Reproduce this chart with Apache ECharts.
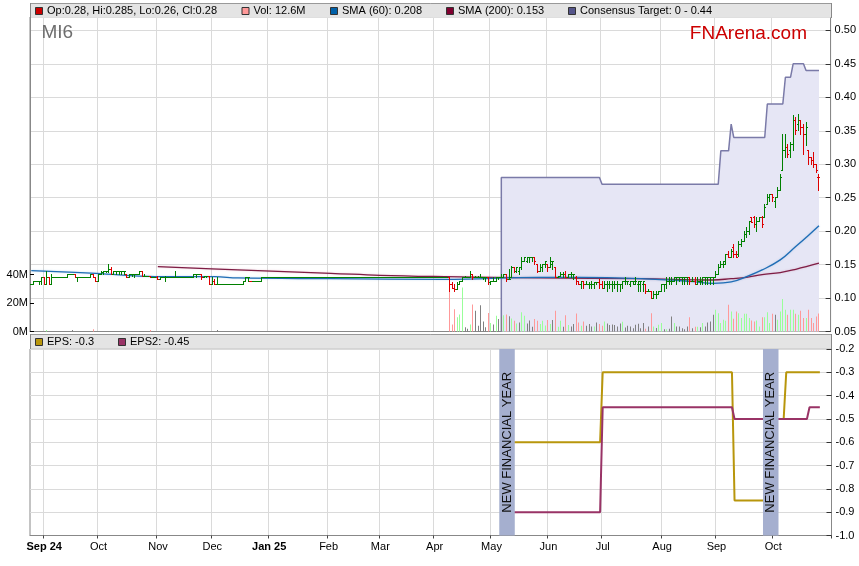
<!DOCTYPE html>
<html><head><meta charset="utf-8">
<script src="https://cdn.jsdelivr.net/npm/echarts@6/dist/echarts.min.js"></script>
<style>html,body{margin:0;padding:0;background:#fff}#c{width:859px;height:566px}</style>
</head><body><div id="c"></div>
<script>
// ---------- DATA ----------
// trading-day categories (weekdays), 2024-08-26 .. 2025-10-31
const firstDay = '2024-08-26', lastDay = '2025-10-31';
const monthNames = ['Jan','Feb','Mar','Apr','May','Jun','Jul','Aug','Sep','Oct','Nov','Dec'];

// daily [open, high, low, close], day index 0 = 2024-08-26
const ohlc = [
// 0-9
[.12,.12,.12,.12],[.12,.125,.12,.125],[.125,.125,.125,.125],[.125,.125,.12,.125],[.125,.13,.12,.13],[.13,.13,.12,.12],[.12,.14,.12,.13],[.13,.13,.12,.12],[.12,.135,.12,.13],[.13,.13,.13,.13],
// 10-19
[.13,.13,.13,.13],[.13,.13,.13,.13],[.13,.13,.13,.13],[.13,.13,.13,.13],[.13,.135,.13,.135],[.135,.135,.135,.135],[.135,.135,.135,.135],[.135,.135,.13,.13],[.13,.13,.125,.13],[.13,.13,.13,.13],
// 20-29
[.13,.13,.13,.13],[.13,.13,.13,.13],[.13,.13,.13,.13],[.13,.135,.13,.135],[.135,.135,.13,.13],[.13,.13,.125,.125],[.125,.135,.125,.135],[.135,.14,.135,.1375],[.1375,.14,.135,.14],[.14,.14,.1375,.14],
// 30-39
[.14,.15,.1375,.1425],[.1425,.145,.135,.135],[.135,.14,.135,.14],[.14,.14,.135,.14],[.14,.14,.135,.14],[.14,.14,.135,.14],[.14,.14,.135,.14],[.135,.135,.13,.13],[.13,.135,.13,.135],[.135,.135,.1325,.135],
// 40-49
[.135,.135,.13,.135],[.135,.135,.135,.135],[.135,.14,.135,.14],[.14,.14,.1325,.1325],[.1325,.135,.1325,.1325],[.1325,.1325,.1325,.1325],[.1325,.1325,.13,.13],[.13,.13,.13,.13],[.13,.13,.13,.13],[.13,.1325,.1275,.1275],
// 50-59
[.1275,.13,.1275,.13],[.13,.13,.13,.13],[.13,.1325,.125,.13],[.13,.13,.13,.13],[.13,.13,.13,.13],[.13,.13,.13,.13],[.13,.14,.13,.13],[.13,.13,.13,.13],[.13,.13,.13,.13],[.13,.13,.13,.13],
// 60-69
[.13,.13,.13,.13],[.13,.13,.13,.13],[.13,.13,.13,.13],[.13,.135,.13,.135],[.135,.135,.13,.135],[.135,.135,.135,.135],[.135,.135,.1275,.13],[.13,.1325,.13,.1325],[.1325,.1325,.13,.1325],[.1325,.1325,.12,.12],
// 70-79
[.12,.13,.12,.125],[.125,.1275,.12,.12],[.12,.13,.12,.12],[.12,.12,.12,.12],[.12,.12,.12,.12],[.12,.12,.12,.12],[.12,.12,.12,.12],[.12,.12,.12,.12],[.12,.12,.12,.12],[.12,.12,.12,.12],
// 80-89
[.12,.12,.12,.12],[.12,.12,.12,.12],[.12,.125,.12,.125],[.125,.13,.125,.13],[.13,.13,.125,.13],[.125,.125,.125,.125],[.125,.125,.125,.125],[.125,.125,.125,.125],[.125,.125,.125,.125],[.125,.13,.125,.13],
// 90-99
[.13,.13,.13,.13],[.13,.13,.13,.13],[.13,.13,.13,.13],[.13,.13,.13,.13],[.13,.13,.13,.13],[.13,.13,.13,.13],[.13,.13,.13,.13],[.13,.13,.13,.13],[.13,.13,.13,.13],[.13,.13,.13,.13],
// 100-109
[.13,.13,.13,.13],[.13,.13,.13,.13],[.13,.13,.13,.13],[.13,.13,.13,.13],[.13,.13,.13,.13],[.13,.13,.13,.13],[.13,.13,.13,.13],[.13,.13,.13,.13],[.13,.13,.13,.13],[.13,.13,.13,.13],
// 110-119
[.13,.13,.13,.13],[.13,.13,.13,.13],[.13,.13,.13,.13],[.13,.13,.13,.13],[.13,.13,.13,.13],[.13,.13,.13,.13],[.13,.13,.13,.13],[.13,.13,.13,.13],[.13,.13,.13,.13],[.13,.13,.13,.13],
// 120-129
[.13,.13,.13,.13],[.13,.13,.13,.13],[.13,.13,.13,.13],[.13,.13,.13,.13],[.13,.13,.13,.13],[.13,.13,.13,.13],[.13,.13,.13,.13],[.13,.13,.13,.13],[.13,.13,.13,.13],[.13,.13,.13,.13],
// 130-139
[.13,.13,.13,.13],[.13,.13,.13,.13],[.13,.13,.13,.13],[.13,.13,.13,.13],[.13,.13,.13,.13],[.13,.13,.13,.13],[.13,.13,.13,.13],[.13,.13,.13,.13],[.13,.13,.13,.13],[.13,.13,.13,.13],
// 140-149
[.13,.13,.13,.13],[.13,.13,.13,.13],[.13,.13,.13,.13],[.13,.13,.13,.13],[.13,.13,.13,.13],[.13,.13,.13,.13],[.13,.13,.13,.13],[.13,.13,.13,.13],[.13,.13,.13,.13],[.13,.13,.13,.13],
// 150-159
[.13,.13,.13,.13],[.13,.13,.13,.13],[.13,.13,.13,.13],[.13,.13,.13,.13],[.13,.13,.13,.13],[.13,.13,.13,.13],[.13,.13,.13,.13],[.13,.13,.13,.13],[.13,.13,.13,.13],[.13,.13,.13,.13],
// 160-169
[.13,.13,.13,.13],[.13,.13,.13,.13],[.13,.13,.11,.12],[.12,.1225,.115,.115],[.115,.12,.11,.1125],[.1125,.1225,.1125,.12],[.12,.125,.12,.125],[.125,.13,.125,.13],[.13,.1325,.13,.13],[.13,.13,.13,.13],
// 170-179
[.13,.14,.13,.135],[.135,.135,.1275,.13],[.13,.1325,.13,.13],[.13,.1325,.13,.13],[.13,.135,.13,.13],[.13,.13,.1275,.13],[.13,.13,.125,.13],[.13,.13,.12,.1225],[.1225,.125,.12,.125],[.125,.13,.125,.125],
// 180-189
[.125,.13,.125,.13],[.13,.13,.1275,.13],[.13,.135,.13,.13],[.13,.135,.13,.135],[.135,.135,.125,.1275],[.1275,.1425,.1275,.1275],[.13,.1475,.13,.145],[.145,.145,.1375,.14],[.14,.145,.1375,.145],[.14,.145,.135,.145],
// 190-199
[.145,.16,.1425,.155],[.155,.16,.155,.16],[.155,.16,.1525,.16],[.16,.16,.1525,.16],[.16,.16,.155,.16],[.16,.16,.15,.155],[.15,.15,.1375,.14],[.14,.15,.14,.145],[.145,.15,.14,.15],[.15,.155,.145,.155],
// 200-209
[.15,.15,.14,.145],[.145,.16,.145,.155],[.15,.155,.1425,.155],[.145,.145,.13,.13],[.13,.1325,.13,.1325],[.1325,.1375,.1325,.135],[.135,.1375,.13,.135],[.135,.14,.13,.13],[.13,.135,.13,.135],[.135,.1375,.13,.135],
// 210-219
[.135,.135,.1275,.135],[.13,.1325,.12,.125],[.125,.125,.12,.12],[.12,.125,.115,.125],[.125,.125,.115,.12],[.12,.125,.12,.12],[.12,.1225,.115,.12],[.12,.125,.115,.12],[.12,.1225,.115,.1225],[.1225,.1225,.12,.1225],
// 220-229
[.1225,.1275,.115,.12],[.12,.125,.115,.115],[.115,.125,.115,.12],[.12,.125,.11,.12],[.12,.125,.115,.12],[.12,.125,.11,.12],[.12,.125,.115,.12],[.12,.125,.11,.12],[.12,.12,.11,.12],[.12,.125,.115,.125],
// 230-239
[.125,.13,.12,.125],[.125,.125,.12,.125],[.12,.125,.1175,.125],[.125,.125,.12,.125],[.12,.13,.12,.125],[.12,.125,.11,.125],[.12,.125,.11,.125],[.12,.125,.11,.125],[.12,.12,.1075,.11],[.11,.1125,.11,.11],
// 240-249
[.11,.11,.10,.10],[.10,.11,.10,.105],[.105,.11,.10,.105],[.105,.11,.105,.11],[.11,.12,.11,.12],[.12,.12,.11,.12],[.12,.13,.115,.125],[.125,.13,.12,.125],[.125,.13,.12,.125],[.125,.13,.125,.13],
// 250-259
[.13,.13,.12,.13],[.13,.13,.125,.13],[.13,.13,.12,.13],[.13,.13,.12,.13],[.13,.13,.12,.13],[.13,.13,.12,.125],[.125,.13,.125,.125],[.125,.13,.12,.12],[.12,.13,.12,.125],[.125,.13,.12,.125],
// 260-269
[.125,.13,.12,.13],[.13,.13,.12,.13],[.13,.13,.12,.13],[.13,.13,.12,.13],[.13,.13,.12,.13],[.13,.14,.13,.135],[.135,.15,.135,.145],[.145,.155,.145,.15],[.15,.155,.145,.155],[.15,.165,.15,.165],
// 270-279
[.165,.17,.16,.16],[.16,.1725,.16,.17],[.175,.18,.16,.165],[.165,.17,.16,.16],[.165,.185,.1625,.18],[.18,.1875,.1775,.185],[.185,.20,.185,.195],[.195,.205,.19,.20],[.20,.215,.195,.215],[.22,.22,.2125,.2125],
// 280-289
[.22,.2225,.205,.21],[.21,.22,.20,.215],[.215,.22,.215,.22],[.22,.2225,.205,.21],[.22,.24,.22,.235],[.24,.255,.24,.25],[.25,.255,.245,.255],[.255,.255,.245,.25],[.245,.25,.235,.25],[.25,.265,.25,.26],
// 290-299
[.26,.285,.26,.28],[.29,.345,.29,.32],[.32,.345,.31,.325],[.325,.33,.31,.315],[.32,.3325,.31,.33],[.33,.3725,.32,.365],[.365,.37,.345,.35],[.36,.375,.35,.365],[.365,.365,.345,.355],[.355,.36,.315,.345],
// 300-305
[.345,.3625,.3275,.355],[.32,.32,.30,.31],[.31,.31,.30,.305],[.305,.3175,.295,.30],[.30,.30,.2875,.29],[.28,.285,.26,.28]
];

// daily volume in millions, day index 0 = 2024-08-26
const volume = [
0,0,0,0,0,0,1,0,0,0,0,0,0,0,0,0,1,0,0,0,
0,0,0,0,1.5,0,0,0,0,0,0,0,0,0,0,0,0,0,0,0,
0,0,0,0,0,0,1,0,0,0,0,0,0,0,0,0,0,0,0,0,
0,0,0,0,0,0,0,0,0,0,0,0,1,0,0,0,0,0,0,0,
0,0,0,0,0,0,0,0,0,0,0,0,0,0,0,0,0,0,0,0,
0,0,0,0,0,0,0,0,0,0,0,0,0,0,0,0,0,0,0,0,
0,0,0,0,0,0,0,0,0,0,0,0,0,0,0,0,0,0,0,0,
0,0,0,0,0,0,0,0,0,0,0,0,0,0,0,0,0,0,0,0,
0,0,32,5,15.7,10,12,31,3,2,5,19,14.5,4,18.5,7,3,13,6,5,
11,8.7,10.3,11.5,12,10.8,9.2,7.5,5.6,6.3,13.6,11,5.6,7.7,3.3,8.7,7.5,5.2,7.5,4.2,
8,5.2,8,14.5,3.3,7.5,3.3,11.5,4.5,3.5,5.2,12.6,6.3,4,7,4,5.2,3.5,3.5,6.3,
5.2,4,7,5.6,4.5,5,4.5,3.5,5.6,6.8,2.8,4,3.5,2.3,4.7,5.4,2.3,5.9,2,3.5,
12.9,3.5,2.5,4.7,5.9,1.6,1.6,1.9,10.6,5.9,3.5,3.5,2.3,1.6,3.5,10,2.3,3.3,3.3,3,
5.9,3.5,6.3,7,11.7,15.3,12.9,5.9,8.2,7.5,18.8,14.1,8.9,14.1,12.9,9.4,12.4,12.4,9.4,7.7,
7,7.7,3.5,10,10,13.6,5.9,12.4,11.7,8.2,14.1,22.8,15.3,11.7,15.3,15.3,12.4,11.7,14.6,9.4,
9.4,15.3,9.4,5.9,10.6,12.6
];

// moving averages: day index / value
const sma60Days = [0,25,48,71,80,116,160,197,212,236,255,264,271,277,283,290,296,301,305];
const sma60Vals = [0.141,0.137,0.132,0.132,0.130,0.129,0.128,0.131,0.131,0.129,0.125,0.122,0.124,0.132,0.142,0.157,0.177,0.194,0.208];
const sma200Days = [49,80,116,135,160,197,236,264,271,277,283,290,296,305];
const sma200Vals = [0.147,0.142,0.137,0.134,0.132,0.130,0.129,0.127,0.129,0.131,0.135,0.138,0.143,0.152];

// consensus target (step line)
const consDays = [182,182,220,221,266,267,270,271,272,284,285,291,292,294,295,299,300,305];
const consVals = [0.05,0.28,0.28,0.27,0.27,0.32,0.32,0.36,0.34,0.34,0.39,0.39,0.43,0.43,0.45,0.45,0.44,0.44];

// EPS forecasts
const epsDays = [182,220,221,271,272,286,287,291,292,305];
const epsVals = [-0.6,-0.6,-0.3,-0.3,-0.85,-0.85,-0.5,-0.5,-0.3,-0.3];
const eps2Days = [182,220,221,271,272,300,301,305];
const eps2Vals = [-0.9,-0.9,-0.45,-0.45,-0.5,-0.5,-0.45,-0.45];

// new financial year bands (start, end dates)
const fyBands = [['2025-05-06','2025-05-14'],['2025-09-25','2025-10-03']];

// legend texts
const legendTop = ['Op:0.28, Hi:0.285, Lo:0.26, Cl:0.28','Vol: 12.6M','SMA (60): 0.208','SMA (200): 0.153','Consensus Target: 0 - 0.44'];
const legendBottom = ['EPS: -0.3','EPS2: -0.45'];
const volTicks = [0,20,40];

// ---------- BUILD ----------
const cats = [];
(function(){
  const d = new Date(firstDay + 'T00:00:00Z'), e = new Date(lastDay + 'T00:00:00Z');
  while (d <= e) {
    const w = d.getUTCDay();
    if (w !== 0 && w !== 6) cats.push(d.toISOString().slice(0,10));
    d.setUTCDate(d.getUTCDate() + 1);
  }
})();
const monthStart = cats.map((c,i) => i > 0 && c.slice(5,7) !== cats[i-1].slice(5,7));
let firstLabelDone = false;
const labelOf = cats.map((c,i) => {
  if (!monthStart[i]) return '';
  const m = +c.slice(5,7) - 1, y = c.slice(2,4);
  if (!firstLabelDone || m === 0) { firstLabelDone = true; return '{b|' + monthNames[m] + ' ' + y + '}'; }
  return monthNames[m];
});
const isTick = (idx) => !!monthStart[idx];

const GREEN = '#008000', RED = '#dd0000';
const VOL_UP = '#99ff99', VOL_DN = '#ff9999', VOL_EQ = '#808080';
const FONT = "'Liberation Sans', Arial, sans-serif";

const ohlcData = ohlc.map((d,i) => {
  const prev = i > 0 ? ohlc[i-1][3] : d[3];
  return [i, d[0], d[1], d[2], d[3], d[3] >= prev ? 1 : 0];
});
const volData = volume.map((v,i) => {
  const prev = i > 0 ? ohlc[i-1][3] : ohlc[i][3];
  const c = ohlc[i][3];
  return [i, v, c > prev ? 1 : (c < prev ? -1 : 0)];
});
const pairs = (a,b) => a.map((x,i) => [x, b[i]]);

function renderOHLC(params, api) {
  const i = api.value(0);
  const pO = api.coord([i, api.value(1)]);
  const pH = api.coord([i, api.value(2)]);
  const pL = api.coord([i, api.value(3)]);
  const pC = api.coord([i, api.value(4)]);
  const col = api.value(5) ? GREEN : RED;
  const X = Math.round(pO[0] - 0.5);
  const xc = X + 0.5;
  const yTop = Math.floor(pH[1]);
  const yBot = Math.max(Math.ceil(pL[1]), yTop + 1);
  const ro = Math.floor(pO[1]) + 0.5, rc = Math.floor(pC[1]) + 0.5;
  const st = {stroke: col, lineWidth: 1};
  return {type:'group', children:[
    {type:'line', shape:{x1:xc, y1:yTop, x2:xc, y2:yBot}, style:st},
    {type:'line', shape:{x1:X-1, y1:ro, x2:X, y2:ro}, style:st},
    {type:'line', shape:{x1:X+1, y1:rc, x2:X+2, y2:rc}, style:st}
  ]};
}
function renderVol(params, api) {
  const i = api.value(0), v = api.value(1);
  if (!v) return null;
  const p0 = api.coord([i, 0]), p1 = api.coord([i, v]);
  const X = Math.round(p0[0] - 0.5);
  const d = api.value(2);
  return {type:'rect', shape:{x:X, y:p1[1], width:1, height:p0[1]-p1[1]},
    style:{fill: d > 0 ? VOL_UP : (d < 0 ? VOL_DN : VOL_EQ)}};
}
function renderBand(params, api) {
  const a = api.coord([api.value(0), -0.6]);
  const b = api.coord([api.value(1), -0.6]);
  const cs = params.coordSys;
  return {type:'group', children:[
    {type:'rect', shape:{x:a[0], y:cs.y, width:b[0]-a[0], height:cs.height}, style:{fill:'#a5afcf'}},
    {type:'text', x:(a[0]+b[0])/2, y:cs.y + cs.height/2, rotation:Math.PI/2,
      style:{text:'NEW FINANCIAL YEAR', align:'center', verticalAlign:'middle', fill:'#111', font:"13px 'Liberation Sans', Arial, sans-serif"}}
  ]};
}

const legendColorsTop = ['#cc0000','#ff9999','#0060a8','#800030','#55558a'];
const legendXTop = [35.5,242,330.5,446.5,568.5];
const legendColorsBottom = ['#b8960c','#993366'];
const legendXBottom = [35.5,118.5];
const graphics = [];
function legendBar(y, xs, cols, texts) {
  graphics.push({type:'rect', shape:{x:30, y:y, width:801.5, height:14.5}, style:{fill:'#e4e4e4'}, z:100});
  graphics.push({type:'line', shape:{x1:30, y1:y+0.5, x2:831.5, y2:y+0.5}, style:{stroke:'#999', lineWidth:1}, z:101});
  graphics.push({type:'line', shape:{x1:30.5, y1:y, x2:30.5, y2:y+15}, style:{stroke:'#888', lineWidth:1}, z:101});
  graphics.push({type:'line', shape:{x1:831.5, y1:y, x2:831.5, y2:y+15}, style:{stroke:'#888', lineWidth:1}, z:101});
  xs.forEach((x,k) => {
    graphics.push({type:'rect', shape:{x:x, y:y+4.5, width:7, height:7}, style:{fill:cols[k], stroke:'#333', lineWidth:1}, z:102});
    graphics.push({type:'text', x:x+11.5, y:y+8, style:{text:texts[k], fill:'#000', font:"11px 'Liberation Sans', Arial, sans-serif", verticalAlign:'middle'}, z:102});
  });
}
legendBar(3, legendXTop, legendColorsTop, legendTop);
legendBar(334, legendXBottom, legendColorsBottom, legendBottom);
graphics.push({type:'text', x:41.5, y:33, style:{text:'MI6', fill:'#6e6e6e', font:"19px 'Liberation Sans', Arial, sans-serif", verticalAlign:'middle'}, z:50});
graphics.push({type:'text', x:807, y:34, style:{text:'FNArena.com', fill:'#cc0000', font:"19px 'Liberation Sans', Arial, sans-serif", align:'right', verticalAlign:'middle'}, z:50});

const axisLbl = {color:'#000', fontSize:11, fontFamily:FONT};
const option = {
  animation:false,
  textStyle:{fontFamily:FONT},
  grid:[
    {left:30, right:27.5, top:17, height:314.5, show:true, borderColor:'#888', borderWidth:1, backgroundColor:'transparent'},
    {left:30, right:27.5, top:349, height:186.5, show:true, borderColor:'#888', borderWidth:1, backgroundColor:'transparent'}
  ],
  xAxis:[
    {type:'category', gridIndex:0, data:cats, boundaryGap:true,
      axisLine:{lineStyle:{color:'#888'}}, axisTick:{show:false}, axisLabel:{show:false},
      splitLine:{show:true, interval:isTick, lineStyle:{color:'#dadada'}}},
    {type:'category', gridIndex:1, data:cats, boundaryGap:true,
      axisLine:{lineStyle:{color:'#888'}},
      axisTick:{show:true, interval:isTick, length:3, lineStyle:{color:'#444'}},
      axisLabel:Object.assign({interval:isTick, margin:6, formatter:(v,i)=>labelOf[i],
        rich:{b:{fontWeight:'bold', fontSize:11, fontFamily:FONT, color:'#000'}}}, axisLbl),
      splitLine:{show:true, interval:isTick, lineStyle:{color:'#dadada'}}}
  ],
  yAxis:[
    {type:'value', gridIndex:0, position:'right', min:0.05, max:0.52, interval:0.05,
      axisLine:{show:true, lineStyle:{color:'#888'}},
      axisTick:{show:true, inside:true, length:5, lineStyle:{color:'#333'}},
      axisLabel:Object.assign({showMaxLabel:false, margin:4, formatter:v=>v.toFixed(2)}, axisLbl),
      splitLine:{show:true, lineStyle:{color:'#dadada'}}},
    {type:'value', gridIndex:0, position:'left', min:0, max:221,
      axisLine:{show:true, lineStyle:{color:'#888'}},
      axisTick:{show:true, inside:true, length:4, customValues:volTicks, lineStyle:{color:'#000'}},
      axisLabel:Object.assign({customValues:volTicks, margin:2, formatter:v=>v+'M'}, axisLbl),
      splitLine:{show:false}},
    {type:'value', gridIndex:1, position:'right', min:-1.0, max:-0.2, interval:0.1,
      axisLine:{show:true, lineStyle:{color:'#888'}},
      axisTick:{show:true, inside:true, length:5, lineStyle:{color:'#333'}},
      axisLabel:Object.assign({margin:4, formatter:v=>v.toFixed(1)}, axisLbl),
      splitLine:{show:true, lineStyle:{color:'#dadada'}}}
  ],
  series:[
    {type:'line', xAxisIndex:0, yAxisIndex:0, data:pairs(consDays, consVals), symbol:'none', z:1,
      lineStyle:{color:'#7a7aa8', width:1.5}, areaStyle:{color:'#e6e6f5', opacity:1, origin:'start'}},
    {type:'custom', xAxisIndex:0, yAxisIndex:1, data:volData, renderItem:renderVol, z:2, encode:{x:0, y:1}},
    {type:'line', xAxisIndex:0, yAxisIndex:0, data:pairs(sma200Days, sma200Vals), symbol:'none', smooth:0.4, z:3,
      lineStyle:{color:'#7e1d44', width:1.3, shadowColor:'rgba(190,90,130,0.35)', shadowBlur:2}},
    {type:'line', xAxisIndex:0, yAxisIndex:0, data:pairs(sma60Days, sma60Vals), symbol:'none', smooth:0.4, z:3,
      lineStyle:{color:'#1f6db5', width:1.3, shadowColor:'rgba(80,150,210,0.35)', shadowBlur:2}},
    {type:'custom', xAxisIndex:0, yAxisIndex:0, data:ohlcData, renderItem:renderOHLC, z:4, encode:{x:0, y:[1,2,3,4]}},
    {type:'line', xAxisIndex:1, yAxisIndex:2, data:pairs(epsDays, epsVals), symbol:'none', z:3,
      lineStyle:{color:'#b8960c', width:2}},
    {type:'line', xAxisIndex:1, yAxisIndex:2, data:pairs(eps2Days, eps2Vals), symbol:'none', z:3,
      lineStyle:{color:'#993366', width:2}},
    {type:'custom', xAxisIndex:1, yAxisIndex:2, z:5, encode:{x:[0,1]},
      data:fyBands.map(b => [cats.indexOf(b[0]), cats.indexOf(b[1])]), renderItem:renderBand}
  ],
  graphic: graphics
};
const chart = echarts.init(document.getElementById('c'), null, {renderer:'canvas', width:859, height:566});
chart.setOption(option);
</script>
</body></html>
